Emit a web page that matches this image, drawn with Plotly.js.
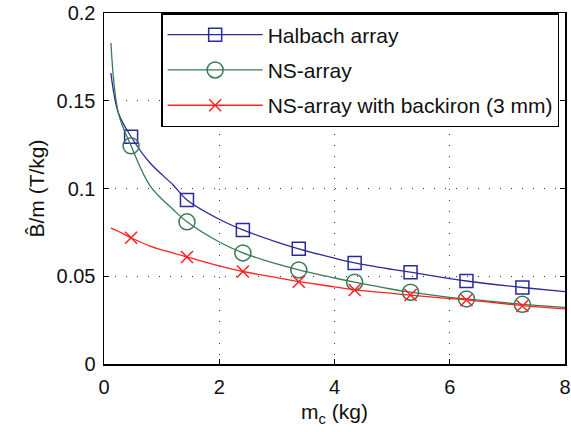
<!DOCTYPE html>
<html>
<head>
<meta charset="utf-8">
<script src="https://cdn.plot.ly/plotly-3.0.1.min.js"></script>
<style>html,body{margin:0;padding:0;background:#fff;}#chart{width:571px;height:432px;}</style>
</head>
<body>
<div id="chart"></div>
<script>
// Measured points (markers)
const markerMass = [0.47, 1.44, 2.41, 3.38, 4.35, 5.32, 6.29, 7.26];
const halbachPts = [0.1295, 0.0935, 0.0764, 0.0656, 0.0576, 0.0523, 0.0473, 0.0436];
const nsPts      = [0.1243, 0.0810, 0.0633, 0.0536, 0.0466, 0.0409, 0.0371, 0.0340];
const backironPts= [0.0719, 0.0610, 0.0527, 0.0469, 0.0422, 0.0393, 0.0365, 0.0331];

// Fitted curves
const curveMass    = [0.12, 0.25, 0.47, 0.8, 1.2, 1.44, 2, 2.41, 3, 3.38, 4, 4.35, 5, 5.32, 6, 6.29, 7, 7.26, 8];
const halbachCurve = [0.1657, 0.143, 0.1295, 0.1145, 0.102, 0.0935, 0.0825, 0.0764, 0.0695, 0.0656, 0.0603, 0.0576, 0.0539, 0.0523, 0.0487, 0.0473, 0.0445, 0.0436, 0.0412];
const nsCurve      = [0.1829, 0.143, 0.1243, 0.1015, 0.088, 0.0810, 0.0695, 0.0633, 0.0570, 0.0536, 0.0490, 0.0466, 0.0426, 0.0409, 0.0380, 0.0371, 0.0348, 0.0340, 0.0323];
const backironCurve= [0.0774, 0.0755, 0.0719, 0.0672, 0.0632, 0.0610, 0.0559, 0.0527, 0.0492, 0.0469, 0.0440, 0.0422, 0.0402, 0.0392, 0.0373, 0.0365, 0.0342, 0.0333, 0.0314];

const seriesNames = ["Halbach array", "NS-array", "NS-array with backiron (3 mm)"];
const xTicks = [0, 2, 4, 6, 8];
const yTicks = [0, 0.05, 0.1, 0.15, 0.2];
const yTickText = ["0", "0.05", "0.1", "0.15", "0.2"];

const colors = ["#2a2a9c", "#3c7a55", "#ff2222"];
const symbols = ["square-open", "circle-open", "x-thin-open"];
const sizes = [13, 16, 12];
const curves = [halbachCurve, nsCurve, backironCurve];
const pts = [halbachPts, nsPts, backironPts];

const traces = [];
for (let i = 0; i < 3; i++) {
  traces.push({x: curveMass, y: curves[i], mode: 'lines', line: {color: colors[i], width: 1.3, shape: 'spline', smoothing: 1}, showlegend: false, hoverinfo: 'skip'});
  traces.push({x: markerMass, y: pts[i], mode: 'markers', marker: {symbol: symbols[i], size: sizes[i], color: colors[i], line: {color: colors[i], width: 1.5}}, showlegend: false});
}
for (let i = 0; i < 3; i++) {
  traces.push({x: [null], y: [null], mode: 'lines+markers', name: seriesNames[i], legendgroup: 'g' + i,
    line: {color: colors[i], width: 1.3}, marker: {symbol: symbols[i], size: sizes[i], color: colors[i], line: {color: colors[i], width: 1.5}}});
}

const FONT = 'Liberation Sans, Arial, sans-serif';
const axisCommon = {
  showline: true, linecolor: '#000', linewidth: 1.5, mirror: 'ticks',
  ticks: 'inside', ticklen: 5, tickcolor: '#000', tickwidth: 1,
  showgrid: true, gridcolor: '#333', gridwidth: 1, griddash: '1px,10px',
  zeroline: false, tickfont: {family: FONT, size: 20, color: '#111'}
};

const layout = {
  width: 571, height: 432,
  margin: {l: 104, r: 6, t: 13, b: 68},
  paper_bgcolor: '#fff', plot_bgcolor: '#fff',
  font: {family: FONT, size: 20, color: '#111'},
  xaxis: Object.assign({}, axisCommon, {range: [0, 8], tickvals: xTicks, ticktext: xTicks.map(String),
    ticklabelstandoff: 4,
    title: {text: 'm<sub>c</sub> (kg)', font: {size: 21}, standoff: 8}}),
  yaxis: Object.assign({}, axisCommon, {range: [0, 0.2], tickvals: yTicks, ticktext: yTickText,
    ticklabelstandoff: 3,
    title: {text: 'B\u0302/m (T/kg)', font: {size: 21}, standoff: 6}}),
  legend: {x: 0.124, y: 1, xanchor: 'left', yanchor: 'top', bgcolor: '#fff', bordercolor: '#000', borderwidth: 1.5,
    font: {size: 21, color: '#111'}, itemwidth: 95, traceorder: 'grouped', tracegroupgap: 5}
};

Plotly.newPlot('chart', traces, layout, {staticPlot: true});
</script>
</body>
</html>
